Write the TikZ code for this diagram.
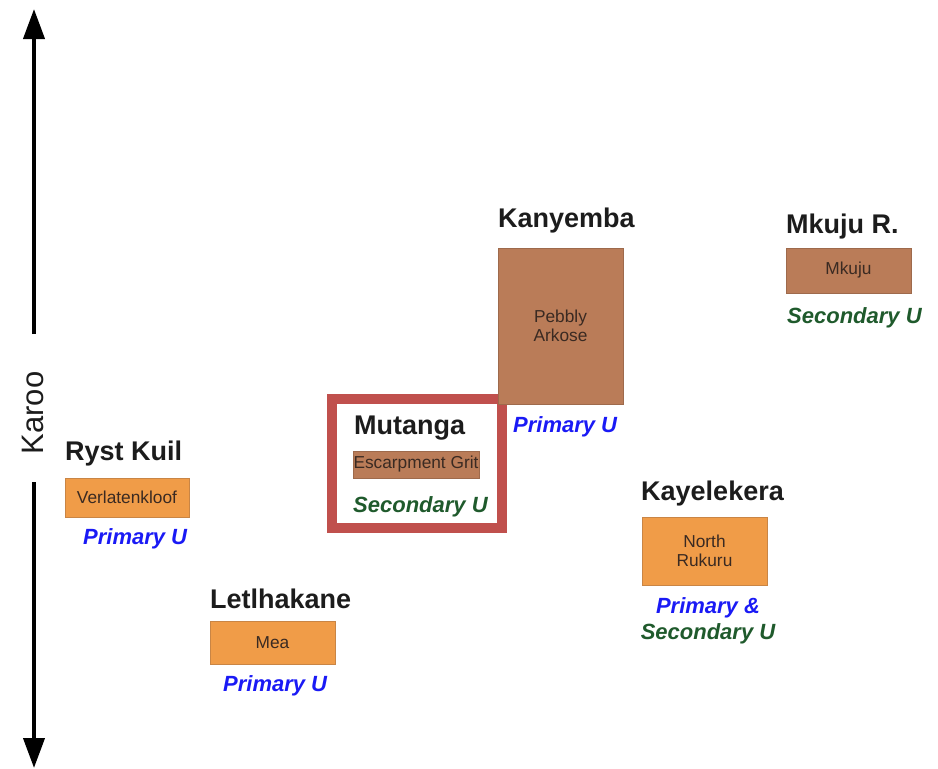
\documentclass[tikz,border=0pt]{standalone}
\usepackage{fontspec}
\setmainfont{Liberation Sans}
\usetikzlibrary{arrows.meta}
\definecolor{orangebox}{HTML}{F09C48}
\definecolor{orangeedge}{HTML}{C98545}
\definecolor{brownbox}{HTML}{BA7C58}
\definecolor{brownedge}{HTML}{9E6A4C}
\definecolor{boxtext}{HTML}{3A2A22}
\definecolor{primblue}{HTML}{1A1AF5}
\definecolor{secgreen}{HTML}{1F5A2C}
\definecolor{framered}{HTML}{C0504D}
\definecolor{titleblack}{HTML}{1C1C1C}
\begin{document}
\begin{tikzpicture}[x=1pt,y=-1pt,
  sitetitle/.style={anchor=west,inner sep=0pt,yshift=-2.5pt,text=titleblack,font=\fontsize{27}{29}\selectfont\bfseries},
  obox/.style={draw=orangeedge,fill=orangebox,line width=0.8pt,text=boxtext,font=\fontsize{17.3}{19}\selectfont,align=center,inner sep=0pt},
  bbox/.style={draw=brownedge,fill=brownbox,line width=0.8pt,text=boxtext,font=\fontsize{17.3}{19}\selectfont,align=center,inner sep=0pt},
  primlabel/.style={anchor=west,inner sep=0pt,yshift=-2pt,text=primblue,font=\fontsize{22}{24}\selectfont\bfseries\itshape},
  seclabel/.style={anchor=west,inner sep=0pt,yshift=-2pt,text=secgreen,font=\fontsize{22}{24}\selectfont\bfseries\itshape},
  axisline/.style={line width=4pt,-{Triangle[length=30pt,width=21pt]}}
]
\useasboundingbox (0,0) rectangle (938,769);
% axis
\node[rotate=90,inner sep=0pt,font=\fontsize{31}{33}\selectfont,text=titleblack] (karoo) at (33,413) {Karoo};
\coordinate (topend) at (34,9);
\coordinate (botend) at (34,768);
\coordinate (karootop) at (34,334);
\coordinate (karoobot) at (34,482);
\draw[axisline] (karootop) -- (topend);
\draw[axisline] (karoobot) -- (botend);
% Ryst Kuil
\node[sitetitle] (ryst) at (65,451) {Ryst Kuil};
\node[obox,minimum width=124pt,minimum height=39pt] (verl) at (127,497.5) {Verlatenkloof};
\node[primlabel] (rystp) at (83,537) {Primary U};
% Letlhakane
\node[sitetitle] (letl) at (210,596) {Letlhakane};
\node[obox,minimum width=125pt,minimum height=43pt] (mea) at (272.5,642.5) {Mea};
\node[primlabel] (letlp) at (223,684) {Primary U};
% Mutanga
\draw[framered,line width=10pt] (332,399) rectangle (502,528);
\node[sitetitle] (mut) at (354,426) {Mutanga};
\node[bbox,minimum width=126pt,minimum height=27pt] (esc) at (416,464.5) {Escarpment Grit};
\node[seclabel] (muts) at (353,505) {Secondary U};
% Kanyemba
\node[sitetitle] (kany) at (498,218) {Kanyemba};
\node[bbox,minimum width=125pt,minimum height=156pt] (peb) at (560.5,326) {Pebbly\\Arkose};
\node[primlabel] (kanyp) at (513,425) {Primary U};
% Mkuju R.
\node[sitetitle] (mkr) at (786,224) {Mkuju R.};
\node[bbox,minimum width=125pt,minimum height=45pt] (mk) at (848.5,270.5) {Mkuju};
\node[seclabel] (mks) at (787,316) {Secondary U};
% Kayelekera
\node[sitetitle] (kay) at (641,491) {Kayelekera};
\node[obox,minimum width=125pt,minimum height=68pt] (nr) at (704.5,551) {North\\Rukuru};
\node[primlabel,anchor=center] (kayp) at (708,606) {Primary \&};
\node[seclabel,anchor=center] (kays) at (708,632) {Secondary U};
\end{tikzpicture}
\end{document}
